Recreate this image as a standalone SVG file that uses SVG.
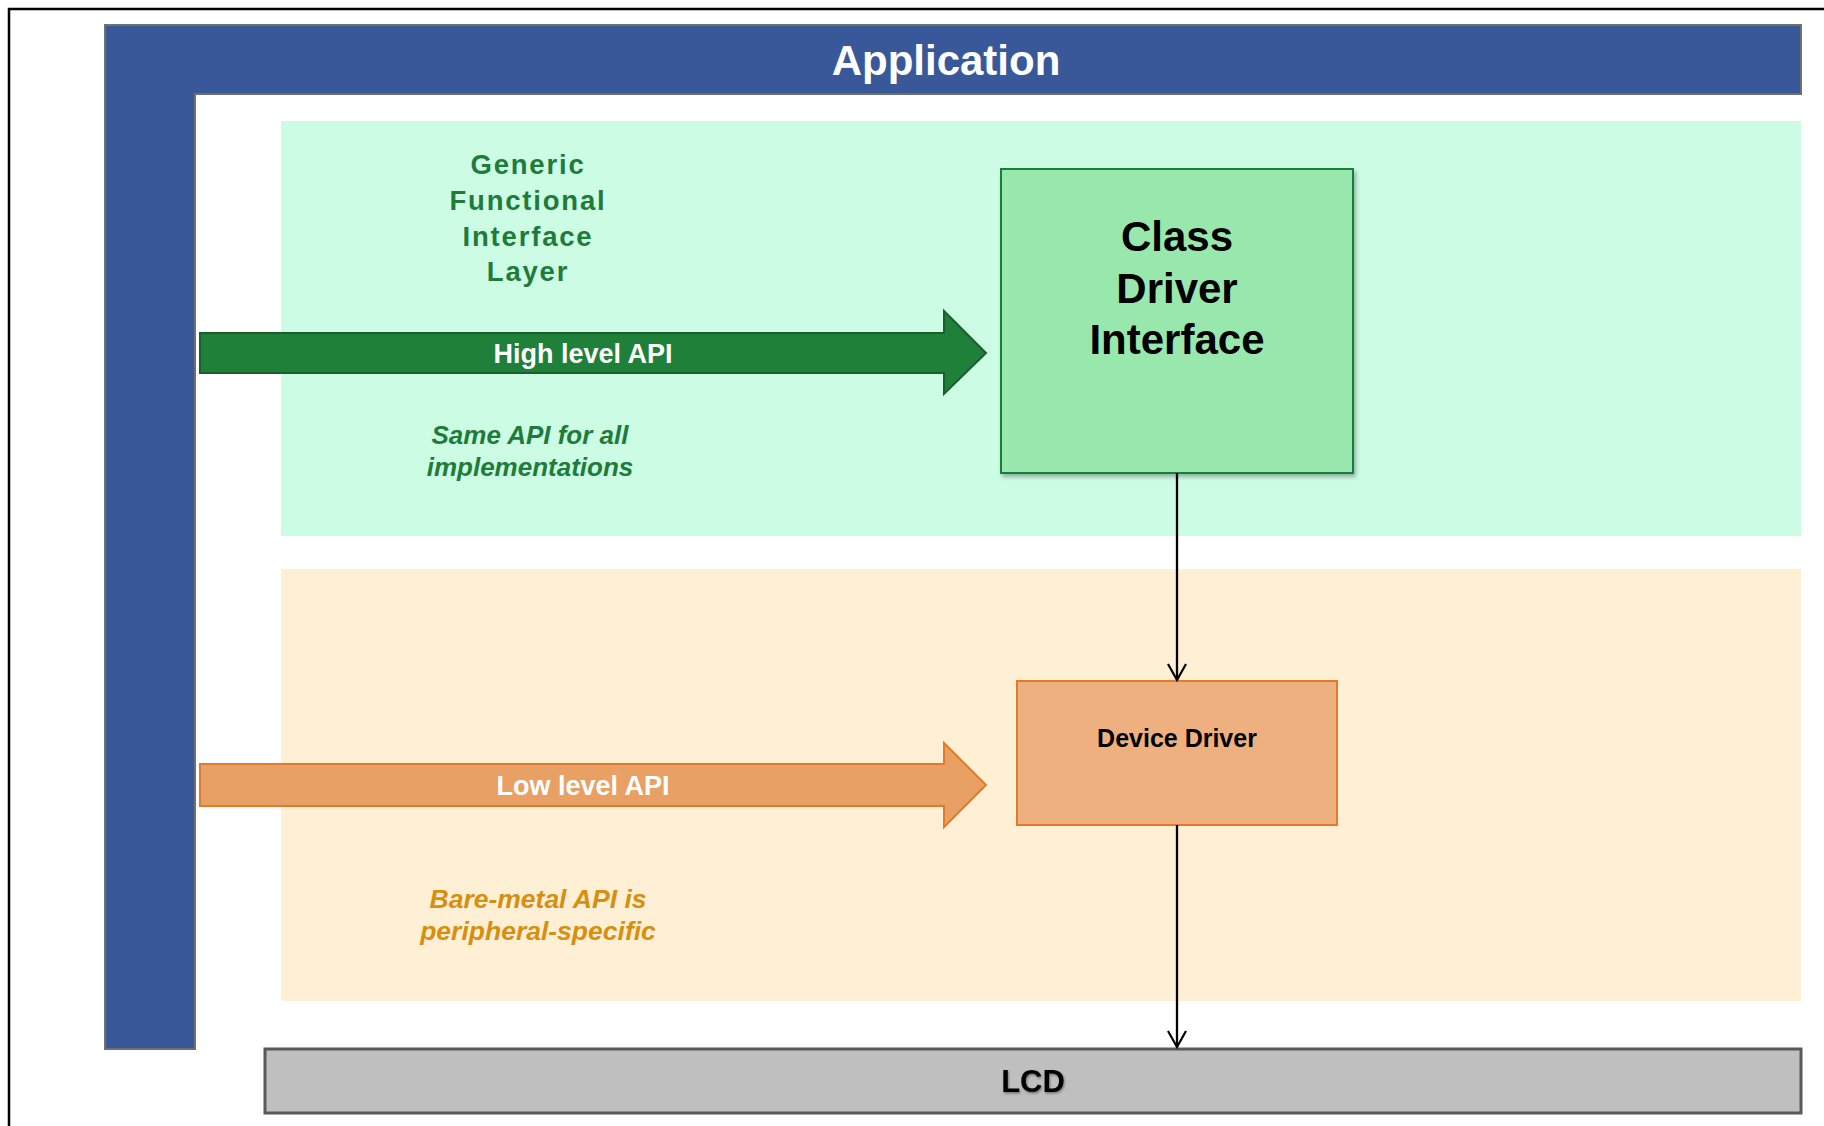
<svg xmlns="http://www.w3.org/2000/svg" width="1824" height="1126" viewBox="0 0 1824 1126">
<defs>
<marker id="open" viewBox="0 0 20 20" refX="18" refY="10" markerWidth="20" markerHeight="20" markerUnits="userSpaceOnUse" orient="auto">
<path d="M2,1 L18,10 L2,19" fill="none" stroke="#000" stroke-width="2.2"/>
</marker>
<filter id="sh" x="-5%" y="-5%" width="115%" height="115%">
<feDropShadow dx="2" dy="3" stdDeviation="2" flood-color="#000" flood-opacity="0.3"/>
</filter>
<filter id="tsh" x="-10%" y="-10%" width="130%" height="140%">
<feDropShadow dx="1" dy="1.5" stdDeviation="1" flood-color="#000" flood-opacity="0.4"/>
</filter>
</defs>
<style>
text{font-family:"Liberation Sans",Arial,sans-serif;font-weight:bold;text-anchor:middle}
.white{fill:#fff}
.green{fill:#1e7b3a}
.gold{fill:#d68f0e}
.it{font-style:italic}
.conn{stroke:#000;stroke-width:2.3;fill:none}
</style>
<rect x="0" y="0" width="1824" height="1126" fill="#fff"/>
<rect x="9" y="9" width="1830" height="1130" fill="none" stroke="#000" stroke-width="2.5"/>

<g id="layer-green">
<rect x="281" y="121" width="1520" height="415" fill="#ccfde4"/>
<g class="green" font-size="27.5" letter-spacing="1.8">
<text x="528" y="174">Generic</text>
<text x="528" y="210">Functional</text>
<text x="528" y="246">Interface</text>
<text x="528" y="281">Layer</text>
</g>
<g class="green it" font-size="26">
<text x="530" y="444">Same API for all</text>
<text x="530" y="476">implementations</text>
</g>
</g>

<g id="layer-orange">
<rect x="281" y="569" width="1520" height="432" fill="#ffefd5"/>
<g class="gold it" font-size="26.5">
<text x="538" y="908">Bare-metal API is</text>
<text x="538" y="940">peripheral-specific</text>
</g>
</g>

<g id="application">
<path d="M105,25 H1801 V94 H195 V1049 H105 Z" fill="#385899" stroke="#707070" stroke-width="2"/>
<text x="946" y="75" class="white" font-size="42">Application</text>
</g>

<g id="high-level-api">
<path d="M200,333 H944 V311 L986,353 L944,394 V373 H200 Z" fill="#1f8039" stroke="#185f2b" stroke-width="2"/>
<text x="583" y="363" class="white" font-size="27">High level API</text>
</g>

<g id="low-level-api">
<path d="M200,764 H944 V743 L986,785 L944,827 V806 H200 Z" fill="#e9a064" stroke="#e07b2c" stroke-width="2"/>
<text x="583" y="795" class="white" font-size="27">Low level API</text>
</g>

<g id="class-driver-interface">
<rect x="1001" y="169" width="352" height="304" fill="#98e8ae" stroke="#1e7b3a" stroke-width="2" filter="url(#sh)"/>
<g font-size="42" fill="#000">
<text x="1177" y="251">Class</text>
<text x="1177" y="303">Driver</text>
<text x="1177" y="354">Interface</text>
</g>
</g>

<g id="device-driver">
<rect x="1017" y="681" width="320" height="144" fill="#eeb07f" stroke="#e07b2c" stroke-width="2"/>
<text x="1177" y="747" font-size="25" fill="#000">Device Driver</text>
</g>

<g id="lcd">
<rect x="265" y="1049" width="1536" height="64" fill="#bfbfbf" stroke="#595959" stroke-width="3"/>
<text x="1033" y="1092" font-size="31" fill="#000" filter="url(#tsh)">LCD</text>
</g>

<g id="connectors">
<path class="conn" d="M1177,473 V680" marker-end="url(#open)"/>
<path class="conn" d="M1177,825 V1047" marker-end="url(#open)"/>
</g>
</svg>
